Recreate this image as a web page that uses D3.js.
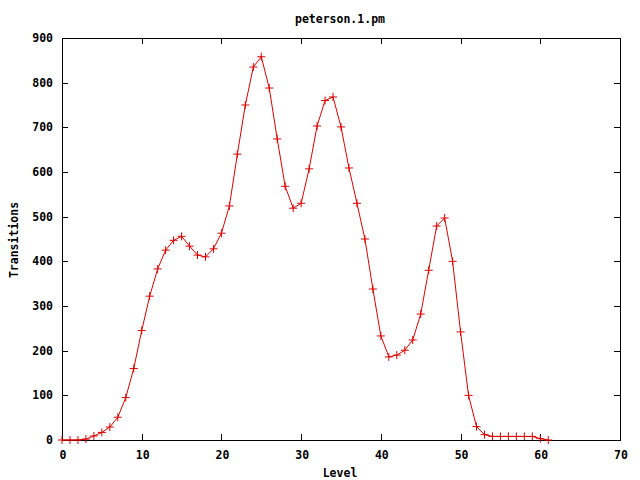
<!DOCTYPE html>
<html>
<head>
<meta charset="utf-8">
<script src="https://cdn.jsdelivr.net/npm/d3@7"></script>
<style>
  body { margin: 0; background: #fff; }
  text { font-family: "DejaVu Sans Mono", monospace; font-weight: bold; font-size: 11.5px; fill: #000; }
</style>
</head>
<body>
<svg id="chart" width="640" height="480"></svg>
<script>
// levels 0..61 and the transition counts
const levels = d3.range(0, 62);
const transitions = [
  0, 0, 0, 2, 9, 17, 29, 51, 95, 160,
  245, 322, 383, 425, 447, 456, 434, 414, 410, 428,
  463, 524, 640, 750, 835, 858, 788, 674, 568, 519,
  530, 607, 703, 760, 768, 701, 609, 530, 450, 338,
  233, 186, 190, 201, 224, 282, 380, 479, 497, 400,
  242, 100, 30, 12, 8, 8, 8, 8, 8, 8,
  3, 0
];
const xTicks = [0, 10, 20, 30, 40, 50, 60, 70];
const yTicks = [0, 100, 200, 300, 400, 500, 600, 700, 800, 900];

const svg = d3.select('#chart');
const L = 62, R = 620, T = 38, B = 440;

const x = d3.scaleLinear().domain([0, 70]).range([L, R]);
const y = d3.scaleLinear().domain([0, 900]).range([B, T]);

// ticks drawn inward on all four sides (gnuplot mirror style)
const tl = 6;
const g = svg.append('g').attr('stroke', '#000').attr('stroke-width', 1);
xTicks.forEach(v => {
  const px = Math.round(x(v)) + 0.5;
  g.append('line').attr('x1', px).attr('x2', px).attr('y1', B).attr('y2', B - tl);
  g.append('line').attr('x1', px).attr('x2', px).attr('y1', T).attr('y2', T + tl);
});
yTicks.forEach(v => {
  const py = Math.round(y(v)) + 0.5;
  g.append('line').attr('x1', L).attr('x2', L + tl).attr('y1', py).attr('y2', py);
  g.append('line').attr('x1', R).attr('x2', R - tl).attr('y1', py).attr('y2', py);
});
g.append('rect').attr('x', L + 0.5).attr('y', T + 0.5)
  .attr('width', R - L).attr('height', B - T).attr('fill', 'none');

svg.append('g').selectAll('text').data(xTicks).enter().append('text')
  .attr('x', d => x(d) + 1).attr('y', 459).attr('text-anchor', 'middle').text(d => d);
svg.append('g').selectAll('text').data(yTicks).enter().append('text')
  .attr('x', 53).attr('y', d => y(d) + 4).attr('text-anchor', 'end').text(d => d);

svg.append('text').attr('x', 340).attr('y', 23).attr('text-anchor', 'middle').text('peterson.1.pm');
svg.append('text').attr('x', 340).attr('y', 477).attr('text-anchor', 'middle').text('Level');
svg.append('text').attr('transform', 'translate(18,240) rotate(-90)')
  .attr('text-anchor', 'middle').text('Transitions');

const pts = levels.map((l, i) => [x(l), y(transitions[i])]);
svg.append('path').attr('d', d3.line()(pts))
  .attr('fill', 'none').attr('stroke', '#e00000').attr('stroke-width', 1);

const m = 4;
const marks = svg.append('g').attr('stroke', '#e00000').attr('stroke-width', 1);
pts.forEach(([px, py]) => {
  marks.append('path').attr('d', `M${px - m},${py}H${px + m}M${px},${py - m}V${py + m}`);
});
</script>
</body>
</html>
